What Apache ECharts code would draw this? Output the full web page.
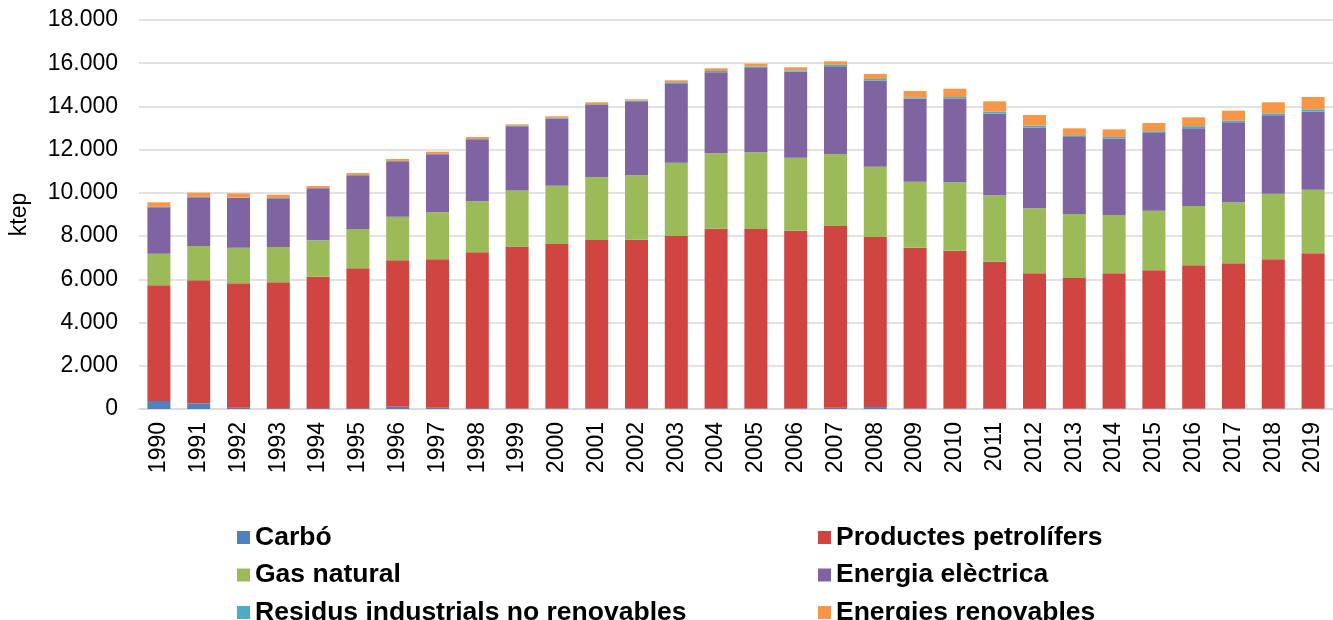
<!DOCTYPE html>
<html>
<head>
<meta charset="utf-8">
<script src="https://cdn.jsdelivr.net/npm/echarts@6/dist/echarts.min.js"></script>
<style>
  html, body { margin: 0; padding: 0; background: #fff; }
  #main { width: 1333px; height: 620px; }
</style>
</head>
<body>
<div id="main"></div>
<script>
  // anys
  var years = ['1990','1991','1992','1993','1994','1995','1996','1997','1998','1999',
               '2000','2001','2002','2003','2004','2005','2006','2007','2008','2009',
               '2010','2011','2012','2013','2014','2015','2016','2017','2018','2019'];

  // ktep per font d'energia
  var carbo = [370, 264, 60, 40, 40, 40, 100, 60, 40, 30,
               30, 30, 30, 30, 30, 30, 30, 60, 90, 30,
               30, 20, 20, 20, 20, 20, 20, 20, 20, 20];
  var petroliers = [5354, 5691, 5755, 5821, 6083, 6469, 6779, 6865, 7209, 7485,
                    7605, 7790, 7805, 7976, 8314, 8299, 8222, 8408, 7870, 7435,
                    7296, 6797, 6258, 6042, 6258, 6397, 6628, 6720, 6905, 7182];
  var gasNatural = [1462, 1587, 1650, 1635, 1681, 1820, 2020, 2175, 2360, 2590,
                    2698, 2900, 2977, 3392, 3486, 3548, 3378, 3332, 3252, 3053,
                    3164, 3070, 3008, 2961, 2699, 2760, 2745, 2823, 3038, 2946];
  var electrica = [2147, 2253, 2298, 2252, 2406, 2483, 2561, 2684, 2868, 2975,
                   3100, 3346, 3424, 3672, 3749, 3903, 3980, 4026, 3979, 3841,
                   3869, 3778, 3731, 3563, 3532, 3594, 3594, 3701, 3625, 3609];
  var residus = [20, 20, 20, 20, 20, 20, 20, 20, 20, 40,
                 40, 40, 40, 50, 60, 60, 60, 100, 80, 60,
                 80, 100, 95, 80, 80, 80, 100, 90, 90, 110];
  var renovables = [211, 195, 196, 149, 88, 88, 88, 103, 88, 53,
                    70, 84, 53, 90, 125, 140, 140, 162, 229, 295,
                    383, 471, 492, 321, 351, 383, 409, 450, 512, 569];

  var yTicks = { min: 0, max: 18000, interval: 2000 };

  var chart = echarts.init(document.getElementById('main'));

  function barSeries(name, data, color) {
    return {
      name: name,
      type: 'bar',
      stack: 'total',
      barWidth: 23,
      data: data,
      itemStyle: { color: color }
    };
  }

  var legendText = { fontFamily: 'Liberation Sans, Arial', fontSize: 26.5, fontWeight: 'bold', color: '#000', lineHeight: 26 };

  var option = {
    animation: false,
    textStyle: { fontFamily: 'Liberation Sans, Arial' },
    grid: { left: 138, top: 20, width: 1203, height: 389 },
    legend: [
      {
        orient: 'vertical', left: 237, top: 524, height: 200, padding: 0,
        itemWidth: 13, itemHeight: 13, itemGap: 10.5, icon: 'rect',
        textStyle: legendText,
        data: ['Carbó', 'Gas natural', 'Residus industrials no renovables']
      },
      {
        orient: 'vertical', left: 818, top: 524, height: 200, padding: 0,
        itemWidth: 13, itemHeight: 13, itemGap: 10.5, icon: 'rect',
        textStyle: legendText,
        data: ['Productes petrolífers', 'Energia elèctrica', 'Energies renovables']
      }
    ],
    xAxis: {
      type: 'category',
      data: years,
      axisLine: { lineStyle: { color: '#d9d9d9', width: 1.5 } },
      axisTick: { show: false },
      axisLabel: { rotate: 90, color: '#000', fontSize: 23, margin: 13 }
    },
    yAxis: {
      type: 'value',
      min: yTicks.min, max: yTicks.max, interval: yTicks.interval,
      name: 'ktep',
      nameLocation: 'middle',
      nameGap: 108,
      nameTextStyle: { color: '#000', fontSize: 23 },
      axisLine: { show: false },
      axisTick: { show: false },
      splitLine: { lineStyle: { color: '#d9d9d9', width: 1.5 } },
      axisLabel: {
        color: '#000', fontSize: 23, margin: 21,
        formatter: function (v) { return String(v).replace(/\B(?=(\d{3})+(?!\d))/g, '.'); }
      }
    },
    series: [
      barSeries('Carbó', carbo, '#4F81BD'),
      barSeries('Productes petrolífers', petroliers, '#D04441'),
      barSeries('Gas natural', gasNatural, '#9BBB59'),
      barSeries('Energia elèctrica', electrica, '#8064A2'),
      barSeries('Residus industrials no renovables', residus, '#4BACC6'),
      barSeries('Energies renovables', renovables, '#F79646')
    ]
  };

  chart.setOption(option);
</script>
</body>
</html>
